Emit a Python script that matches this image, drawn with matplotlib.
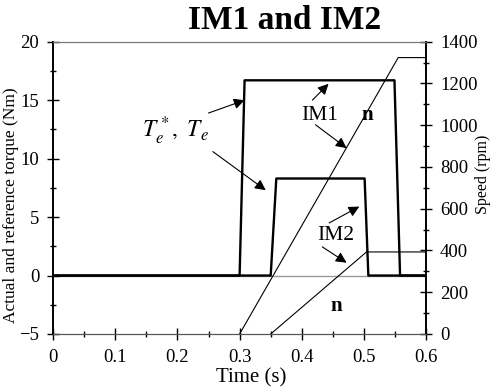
import numpy as np
import matplotlib
matplotlib.use('Agg')
import matplotlib.pyplot as plt

# Torque responses (reference and actual overlap), Nm
t_torque_im1 = [0.0, 0.300, 0.308, 0.549, 0.558, 0.6]
te_im1 = [0.0, 0.0, 16.7, 16.7, 0.0, 0.0]
t_torque_im2 = [0.0, 0.350, 0.359, 0.501, 0.507, 0.6]
te_im2 = [0.0, 0.0, 8.3, 8.3, 0.0, 0.0]

# Speed responses, rpm
t_speed_im1 = [0.300, 0.555, 0.6]
n_im1 = [0.0, 1324.0, 1324.0]
t_speed_im2 = [0.350, 0.504, 0.6]
n_im2 = [0.0, 393.0, 393.0]

x_ticks = [0, 0.1, 0.2, 0.3, 0.4, 0.5, 0.6]
x_ticklabels = ['0', '0.1', '0.2', '0.3', '0.4', '0.5', '0.6']
torque_ticks = [-5, 0, 5, 10, 15, 20]
speed_ticks = [0, 200, 400, 600, 800, 1000, 1200, 1400]

plt.rcParams['font.family'] = ['Liberation Serif', 'DejaVu Serif']
plt.rcParams['mathtext.fontset'] = 'stix'

fig = plt.figure(figsize=(4.91, 3.90), dpi=100)
fig.patch.set_facecolor('white')
ax = fig.add_axes([0.108, 0.1436, 0.76, 0.7494])
ax2 = ax.twinx()

ax.axhline(0, color='#999999', lw=1.0, zorder=1)
ax.plot(t_torque_im1, te_im1, color='black', lw=1.7, zorder=3)
ax.plot(t_torque_im2, te_im2, color='black', lw=1.7, zorder=3)
ax2.plot(t_speed_im1, n_im1, color='black', lw=0.8)
ax2.plot(t_speed_im2, n_im2, color='black', lw=0.8)

ax.set_xlim(0, 0.6)
ax.set_ylim(-5, 20)
ax2.set_ylim(0, 1400)

ax.set_xticks(x_ticks)
ax.set_xticklabels(x_ticklabels)
ax.set_xticks(np.arange(0.05, 0.6, 0.1), minor=True)
ax.set_yticks(torque_ticks)
ax.set_yticks(np.arange(-2.5, 20, 5), minor=True)
ax2.set_yticks(speed_ticks)
ax2.set_yticks(np.arange(100, 1400, 200), minor=True)

for a in (ax, ax2):
    a.tick_params(which='major', direction='inout', length=8, width=1.0,
                  labelsize=13.5, pad=6)
    a.tick_params(which='minor', direction='inout', length=5, width=1.0)
ax.tick_params(axis='x', pad=7)

for a in (ax, ax2):
    a.spines['top'].set_color('#777777')
    a.spines['top'].set_linewidth(0.8)
    a.spines['bottom'].set_color('#555555')
    a.spines['left'].set_linewidth(1.2)
    a.spines['right'].set_linewidth(1.2)

ax.set_xlabel('Time (s)', fontsize=15)
ax.xaxis.set_label_coords(0.53, -0.118)
ax.set_ylabel('Actual and reference torque (Nm)', fontsize=12.5)
ax.yaxis.set_label_coords(-0.09, 0.44)
ax2.set_ylabel('Speed (rpm)', fontsize=11.5)
ax2.yaxis.set_label_coords(1.13, 0.545)

fig.text(0.58, 0.948, 'IM1 and IM2', fontsize=24, fontweight='bold',
         ha='center', va='center')

arrow = dict(arrowstyle='-|>', mutation_scale=16, lw=0.8, color='black',
             shrinkA=0, shrinkB=0)

ax.text(0.196, 12.4, r'$T_e^*,\ T_e$', fontsize=17, ha='center', va='center')
ax.annotate('', xy=(0.308, 15.0), xytext=(0.250, 13.9), arrowprops=arrow)
ax.annotate('', xy=(0.342, 7.3), xytext=(0.257, 10.6), arrowprops=arrow)

ax.text(0.428, 13.7, 'IM1', fontsize=15.5, ha='center', va='center')
ax.text(0.505, 13.7, 'n', fontsize=15, fontweight='bold', ha='center', va='center')
ax.annotate('', xy=(0.443, 16.4), xytext=(0.417, 15.0), arrowprops=arrow)
ax.annotate('', xy=(0.472, 10.9), xytext=(0.422, 12.9), arrowprops=arrow)

ax.text(0.454, 3.4, 'IM2', fontsize=15.5, ha='center', va='center')
ax.text(0.456, -2.6, 'n', fontsize=15, fontweight='bold', ha='center', va='center')
ax.annotate('', xy=(0.4925, 5.9), xytext=(0.444, 4.5), arrowprops=arrow)
ax.annotate('', xy=(0.472, 1.1), xytext=(0.433, 2.45), arrowprops=arrow)

fig.savefig('out.png', dpi=100, facecolor='white')
